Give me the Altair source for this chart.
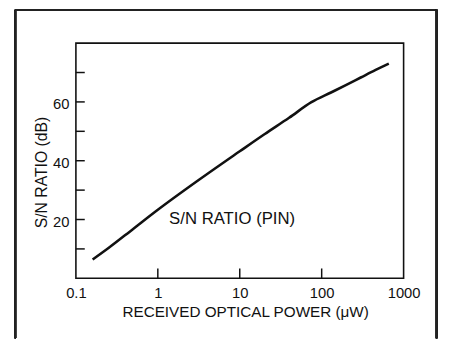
import altair as alt
import pandas as pd

# Curve
power_uw = [0.16, 0.25, 0.5, 1, 3, 10, 20, 40, 75, 130, 200, 300, 450, 660]
sn_db = [6.4, 10.3, 16.8, 23.3, 33.0, 43.2, 49.0, 54.6, 59.9, 63.2, 65.8, 68.3, 70.8, 73.0]

x_tick_labels = [0.1, 1, 10, 100, 1000]
x_inner_ticks = [1, 10, 100]
y_tick_labels = [20, 40, 60]
y_inner_ticks = [10, 20, 30, 40, 50, 60, 70]

note_text = ["S/N RATIO (PIN)"]
note_x = [8.07]
note_y = [20.1]

FONT = "Liberation Sans"
W, H = 333, 239

curve = pd.DataFrame({"p": power_uw, "sn": sn_db})
xt = pd.DataFrame({"p": x_inner_ticks})
yt = pd.DataFrame({"sn": y_inner_ticks})
note = pd.DataFrame({"p": note_x, "sn": note_y, "t": note_text})

xscale = alt.Scale(type="log", domain=[0.1, 1000])
yscale = alt.Scale(domain=[0, 80], nice=False)

xaxis = alt.Axis(values=x_tick_labels, format="~g", ticks=False, domain=False, grid=False,
                 labelFont=FONT, labelFontSize=15, labelPadding=8, labelColor="#111",
                 labelFlush=False, labelOverlap=False,
                 title="RECEIVED OPTICAL POWER (\u03bcW)", titleFont=FONT, titleFontSize=15.5,
                 titleFontWeight="normal", titleColor="#111", titleX=172, titleY=34,
                 titleBaseline="middle", titleAlign="center")
yaxis = alt.Axis(values=y_tick_labels, ticks=False, domain=False, grid=False,
                 labelFont=FONT, labelFontSize=15, labelPadding=7, labelColor="#111",
                 labelOffset=2,
                 title="S/N RATIO (dB)", titleFont=FONT, titleFontSize=16,
                 titleFontWeight="normal", titleColor="#111", titleAngle=-90,
                 titleX=-35, titleY=131, titleAlign="center", titleBaseline="middle")

line = alt.Chart(curve).mark_line(color="#111", strokeWidth=2.6, interpolate="monotone").encode(
    x=alt.X("p:Q", scale=xscale, axis=xaxis),
    y=alt.Y("sn:Q", scale=yscale, axis=yaxis),
)

xticks = alt.Chart(xt).mark_rule(color="#111", strokeWidth=1.5).encode(
    x=alt.X("p:Q", scale=xscale),
    y=alt.value(H), y2=alt.value(H - 10),
)
yticks = alt.Chart(yt).mark_rule(color="#111", strokeWidth=1.5).encode(
    y=alt.Y("sn:Q", scale=yscale),
    x=alt.value(0), x2=alt.value(9),
)

label = alt.Chart(note).mark_text(font=FONT, fontSize=17, color="#111",
                                  align="center", baseline="middle").encode(
    x=alt.X("p:Q", scale=xscale),
    y=alt.Y("sn:Q", scale=yscale),
    text="t:N",
)

# outer frame of the figure (decoration)
frame_left = alt.Chart(curve).mark_rule(color="#222", strokeWidth=1.5).encode(
    x=alt.value(-61.5), y=alt.value(-33.5), y2=alt.value(300))
frame_top = alt.Chart(curve).mark_rule(color="#222", strokeWidth=1.5).encode(
    x=alt.value(-62), x2=alt.value(367), y=alt.value(-33.5))
frame_right = alt.Chart(curve).mark_rule(color="#222", strokeWidth=1.5).encode(
    x=alt.value(366.5), y=alt.value(-34), y2=alt.value(300))

chart = alt.layer(frame_left, frame_top, frame_right, line, xticks, yticks, label).properties(
    width=W, height=H,
    autosize=alt.AutoSizeParams(type="none"),
    padding={"left": 69, "top": 33, "right": 38, "bottom": 60},
    background="white",
).configure_view(stroke="#111", strokeWidth=1.6)

chart.save("out.html", embed_options={"renderer": "svg", "actions": False})
